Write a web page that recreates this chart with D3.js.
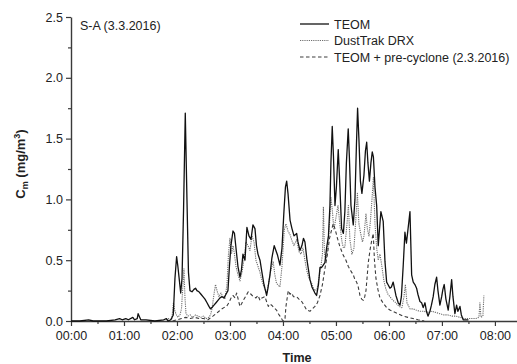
<!DOCTYPE html>
<html>
<head>
<meta charset="utf-8">
<script src="https://cdn.jsdelivr.net/npm/d3@7"></script>
<style>
  html, body { margin: 0; padding: 0; background: #fff; }
  svg { display: block; font-family: "Liberation Sans", Arial, sans-serif; }
</style>
</head>
<body>
<svg id="chart" width="517" height="364"></svg>
<script>
// Mass concentration C_m (mg/m3) against time of day, in minutes after 00:00.
const title = "S-A (3.3.2016)";
const seriesNames = ["TEOM", "DustTrak DRX", "TEOM + pre-cyclone (2.3.2016)"];
const xMajorTicks = [0, 60, 120, 180, 240, 300, 360, 420, 480];
const xTickLabels = ["00:00", "01:00", "02:00", "03:00", "04:00", "05:00", "06:00", "07:00", "08:00"];
const yMajorTicks = [0, 0.5, 1.0, 1.5, 2.0, 2.5];
const yTickLabels = ["0.0", "0.5", "1.0", "1.5", "2.0", "2.5"];

// [minute, mg/m3]
const teom = [
  [0,0.00],[10,0.00],[20,0.01],[25,0.00],[40,0.00],[50,0.01],[55,0.02],[58,0.01],[62,0.02],[65,0.01],
  [70,0.03],[72,0.01],[75,0.02],[76,0.06],[79,0.01],[85,0.01],[95,0.00],[105,0.01],[108,0.02],[110,0.00],
  [113,0.01],[115.8,0.05],[117.7,0.35],[119.6,0.53],[121,0.45],[124.2,0.23],[125.7,0.35],[127.4,0.9],
  [129.4,1.71],[131.3,1.0],[133,0.4],[134.7,0.25],[137,0.24],[139.2,0.26],[141,0.27],[142.6,0.25],
  [144.9,0.24],[147.2,0.22],[149.4,0.2],[151.7,0.18],[154,0.15],[156.2,0.12],[157.9,0.10],[159.6,0.11],
  [161.9,0.13],[164.2,0.15],[166.4,0.17],[168.7,0.19],[171,0.2],[173.2,0.19],[175.5,0.22],[177.7,0.25],
  [179.4,0.45],[181.1,0.62],[183.4,0.74],[185.1,0.72],[186.8,0.6],[189,0.45],[191.3,0.36],[193,0.42],
  [194.7,0.55],[197,0.5],[199.2,0.77],[201.5,0.7],[203.8,0.67],[206,0.79],[208.3,0.76],[210,0.62],
  [211.7,0.55],[214,0.5],[216.2,0.4],[218.5,0.3],[220.2,0.25],[221.5,0.21],[223,0.27],[225.3,0.38],
  [227.5,0.52],[230.1,0.62],[232,0.58],[233.9,0.54],[236.6,0.46],[238.9,0.6],[241.1,0.9],[242.8,1.1],
  [244.2,1.15],[245.7,1.05],[248,0.83],[250.2,0.76],[252.5,0.7],[255.5,0.72],[257,0.65],[259.2,0.58],
  [261.5,0.62],[263.2,0.68],[264.9,0.65],[267.2,0.5],[270.6,0.34],[272.8,0.28],[276.2,0.23],[278.1,0.21],
  [280.2,0.3],[281.9,0.44],[283.8,0.44],[285.6,0.46],[287.5,0.48],[289.4,0.6],[291.5,0.7],[293.2,0.95],
  [294.3,1.3],[295.8,1.6],[297.2,1.35],[298.9,0.95],[300.5,1.1],[302.6,1.41],[303.9,1.2],[306.4,0.76],
  [308.4,0.72],[310.1,0.9],[311.8,1.3],[313.9,1.58],[315.2,1.35],[317,0.95],[319.6,0.79],[321.5,1.0],
  [323.2,1.45],[324.5,1.75],[326,1.5],[327.7,1.15],[329.4,1.05],[331.7,1.2],[333.4,1.4],[334.8,1.47],
  [336.2,1.3],[337.9,1.15],[339.6,1.3],[341.1,1.39],[342.4,1.35],[344.2,1.1],[346.1,0.95],[347.9,0.62],
  [349.8,0.8],[350.9,0.9],[353.5,0.82],[355.5,0.49],[357.4,0.32],[358.9,0.3],[361.1,0.27],[362.8,0.28],
  [364.8,0.32],[366.8,0.25],[367.9,0.21],[370.5,0.15],[372.5,0.13],[374.1,0.2],[376.2,0.46],[378.1,0.73],
  [379.8,0.64],[380.9,0.71],[382.6,0.82],[383.8,0.9],[384.9,0.6],[385.7,0.38],[387.5,0.32],[389.4,0.3],
  [391.3,0.27],[392.8,0.22],[395.1,0.16],[397,0.15],[398.8,0.11],[400.8,0.15],[402.5,0.08],[404.2,0.04],
  [406.4,0.08],[408.1,0.13],[410.1,0.2],[412,0.3],[414,0.36],[415.5,0.25],[417.7,0.13],[419.7,0.2],
  [421.1,0.26],[422.6,0.3],[424.5,0.18],[427.1,0.09],[429,0.2],[431,0.34],[432.5,0.2],[434.7,0.06],
  [436.6,0.13],[438.1,0.08],[440.4,0.12],[442,0.05],[444.1,0.01],[450,0.01]
];

const dustTrak = [
  [105,0.01],[110,0.02],[114,0.01],[114.3,0.03],[116,0.15],[117.7,0.08],[119.4,0.05],[121,0.03],
  [123.4,0.05],[125.1,0.1],[126.8,0.3],[127.9,0.43],[129,0.2],[130.2,0.06],[132.5,0.04],[135,0.05],
  [138,0.03],[141,0.05],[144,0.04],[147,0.03],[150,0.04],[153,0.02],[156,0.03],[158,0.05],[159.6,0.1],
  [161.9,0.22],[163.6,0.3],[165.3,0.25],[167.5,0.2],[169.8,0.23],[172,0.2],[174.3,0.18],[176.6,0.3],
  [178.3,0.55],[180,0.68],[181.7,0.55],[183.4,0.62],[185.1,0.55],[186.8,0.45],[189,0.38],[191.3,0.33],
  [193.6,0.4],[195.8,0.5],[198.1,0.65],[200.4,0.62],[202.6,0.58],[204.9,0.7],[207.2,0.65],[209.4,0.5],
  [211.7,0.45],[214,0.4],[216.2,0.33],[218.5,0.28],[221.5,0.23],[223.5,0.3],[225.8,0.4],[228.9,0.49],
  [230.8,0.38],[232.7,0.31],[236.6,0.28],[238.9,0.45],[241.5,0.75],[243.4,0.8],[245.7,0.74],[248,0.71],
  [250.2,0.66],[252.5,0.62],[255.5,0.67],[258.1,0.57],[260.4,0.55],[262.6,0.6],[264.9,0.5],[266.8,0.42],
  [269.4,0.35],[272.5,0.31],[274.5,0.27],[276.2,0.25],[278.5,0.26],[280.7,0.35],[283,0.45],[284.7,0.55],
  [285.8,0.94],[287,0.55],[288.7,0.5],[291,0.62],[292.7,0.8],[294.3,1.02],[296,0.9],[297.7,0.75],
  [300,0.85],[302.3,0.95],[304.5,0.79],[306.8,0.65],[308.5,0.6],[310.1,0.61],[312.5,0.8],[314.1,0.95],
  [315.8,0.67],[318.1,0.55],[320.4,0.6],[322.6,0.85],[324.3,1.05],[326,0.8],[327.7,0.73],[330,0.65],
  [331.7,0.7],[334,0.88],[335.7,0.75],[337.4,0.7],[339,0.82],[340.8,1.0],[342.4,1.18],[344.2,0.8],
  [346.1,0.6],[347.9,0.5],[349.8,0.55],[352,0.45],[354.3,0.33],[356.6,0.26],[358.9,0.22],[361.1,0.2],
  [364.5,0.17],[367.9,0.15],[371.3,0.12],[374.7,0.11],[377,0.2],[378.6,0.3],[380.4,0.15],[383.8,0.1],
  [387.2,0.1],[390.6,0.09],[395.1,0.08],[399.6,0.08],[404.2,0.07],[408.7,0.08],[413.2,0.07],[417.7,0.06],
  [422.3,0.05],[426.8,0.05],[431.3,0.04],[435.8,0.04],[440.4,0.03],[444.9,0.02],[451.7,0.02],[458.5,0.02],
  [461.9,0.03],[463,0.15],[464.2,0.03],[466.4,0.04],[467.5,0.21]
];

const preCyclone = [
  [115,0.00],[125,0.02],[130,0.03],[135,0.02],[140,0.03],[145,0.02],[150,0.02],[155,0.01],[160.7,0.04],
  [164.2,0.06],[167.5,0.08],[171,0.1],[173.2,0.11],[176.2,0.12],[178.8,0.15],[181.9,0.2],[183.4,0.21],
  [185.7,0.19],[187.6,0.23],[189.6,0.17],[191.3,0.12],[193,0.14],[195.1,0.17],[197.6,0.2],[200.7,0.24],
  [203.8,0.22],[206.4,0.2],[209.4,0.19],[211.7,0.21],[214,0.17],[216.2,0.19],[219.6,0.2],[221.9,0.15],
  [223.4,0.12],[225.3,0.14],[227.2,0.13],[229.8,0.11],[232.7,0.09],[234.7,0.06],[236.6,0.04],[239.2,0.01],
  [240.5,0.00],[242.3,0.02],[243.4,0.12],[246,0.25],[248,0.22],[249.8,0.23],[251.9,0.2],[255.5,0.2],
  [258.1,0.18],[261.2,0.16],[263.8,0.13],[266.8,0.09],[270.6,0.08],[273.4,0.1],[276.2,0.12],[279,0.15],
  [281.9,0.21],[284.7,0.3],[287.5,0.43],[290.4,0.55],[292.7,0.68],[295.1,0.75],[296.9,0.8],[298.9,0.76],
  [301.7,0.68],[304.5,0.61],[308.3,0.54],[311.3,0.5],[313.9,0.45],[317,0.41],[319.6,0.38],[321.5,0.34],
  [323.4,0.32],[325.2,0.28],[327.2,0.21],[329.1,0.18],[331,0.17],[332.6,0.2],[334,0.25],[335.5,0.38],
  [336.6,0.48],[338.5,0.58],[340.2,0.65],[342.2,0.72],[343.6,0.5],[345.3,0.35],[347.5,0.26],[349.8,0.19],
  [353.2,0.15],[357.4,0.11],[361.1,0.09],[364.5,0.08],[370.2,0.06],[375.8,0.04],[381.5,0.03],[387.2,0.02],
  [392.8,0.01],[400,0.00]
];

const svg = d3.select("#chart");
const x = d3.scaleLinear().domain([0, 505]).range([71, 517]);
const y = d3.scaleLinear().domain([0, 2.5]).range([321, 17]);
const axisColor = "#3a3a3a";
const textColor = "#222";

// Axes: major ticks with labels plus unlabelled minor ticks
const xMinor = d3.range(30, 505, 60);
svg.append("g").attr("transform", `translate(0,${y(0)})`)
  .call(d3.axisBottom(x).tickValues(xMinor).tickSize(3).tickFormat(""))
  .call(g => g.select(".domain").remove())
  .selectAll("line").attr("stroke", axisColor).attr("stroke-width", 1.2);
const gx = svg.append("g").attr("transform", `translate(0,${y(0)})`)
  .call(d3.axisBottom(x).tickValues(xMajorTicks).tickSize(5).tickSizeOuter(0)
    .tickFormat((d, i) => xTickLabels[i]));
gx.select(".domain").attr("stroke", axisColor).attr("stroke-width", 1.4);
gx.selectAll("line").attr("stroke", axisColor).attr("stroke-width", 1.2);
gx.selectAll("text").attr("fill", textColor).attr("font-size", 12.5).attr("dy", "0.9em");

const yMinor = d3.range(0.25, 2.5, 0.5);
svg.append("g").attr("transform", `translate(${x(0)},0)`)
  .call(d3.axisLeft(y).tickValues(yMinor).tickSize(3).tickFormat(""))
  .call(g => g.select(".domain").remove())
  .selectAll("line").attr("stroke", axisColor).attr("stroke-width", 1.2);
const gy = svg.append("g").attr("transform", `translate(${x(0)},0)`)
  .call(d3.axisLeft(y).tickValues(yMajorTicks).tickSize(5).tickSizeOuter(0)
    .tickFormat((d, i) => yTickLabels[i]));
gy.select(".domain").attr("stroke", axisColor).attr("stroke-width", 1.4);
gy.selectAll("line").attr("stroke", axisColor).attr("stroke-width", 1.2);
gy.selectAll("text").attr("fill", textColor).attr("font-size", 12.5).attr("x", -8);
svg.selectAll(".tick text").attr("font-family", "'Liberation Sans', Arial, sans-serif");

// Series
const line = d3.line().x(d => x(d[0])).y(d => y(d[1]));
const styles = [
  { data: dustTrak, stroke: "#6e6e6e", width: 1.1, dash: "1.2,1" },
  { data: teom, stroke: "#111", width: 1.3, dash: null },
  { data: preCyclone, stroke: "#3c3c3c", width: 1.1, dash: "3.5,2.5" }
];
styles.forEach(s => {
  svg.append("path").datum(s.data)
    .attr("fill", "none").attr("stroke", s.stroke).attr("stroke-width", s.width)
    .attr("stroke-linejoin", "round")
    .attr("stroke-dasharray", s.dash)
    .attr("d", line);
});

// Title
svg.append("text").attr("x", 80).attr("y", 30).attr("font-size", 12.5).attr("fill", textColor)
  .text(title);

// Legend
const legendStyles = [styles[1], styles[0], styles[2]];
const legendY = [24, 40.5, 57];
seriesNames.forEach((name, i) => {
  const s = legendStyles[i];
  svg.append("line").attr("x1", 300).attr("x2", 329)
    .attr("y1", legendY[i]).attr("y2", legendY[i])
    .attr("stroke", s.stroke).attr("stroke-width", s.width).attr("stroke-dasharray", s.dash);
  svg.append("text").attr("x", 334).attr("y", legendY[i] + 4.5).attr("font-size", 12.5)
    .attr("fill", textColor).text(name);
});

// Axis titles
svg.append("text").attr("x", 297).attr("y", 362).attr("text-anchor", "middle")
  .attr("font-size", 12.5).attr("font-weight", "bold").attr("fill", textColor).text("Time");

const yt = svg.append("text").attr("transform", "translate(25,164) rotate(-90)")
  .attr("text-anchor", "middle").attr("font-size", 13).attr("font-weight", "bold").attr("fill", textColor);
yt.append("tspan").text("C");
yt.append("tspan").attr("font-size", 9).attr("dy", 3).text("m");
yt.append("tspan").attr("dy", -3).text(" (mg/m");
yt.append("tspan").attr("font-size", 9).attr("dy", -5).text("3");
yt.append("tspan").attr("dy", 5).text(")");
</script>
</body>
</html>
